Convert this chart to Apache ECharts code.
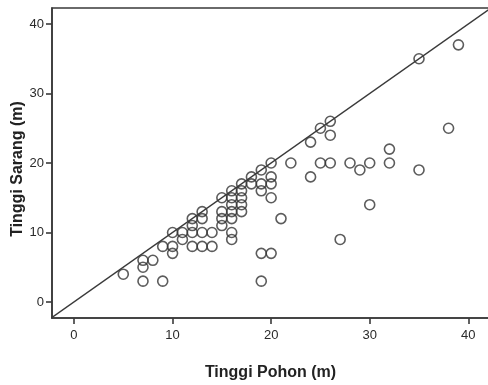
<!DOCTYPE html>
<html>
<head>
<meta charset="utf-8">
<script src="https://cdn.jsdelivr.net/npm/echarts@6/dist/echarts.min.js"></script>
<style>html,body{margin:0;padding:0;background:#fff}#c{width:488px;height:385px}</style>
</head>
<body>
<div id="c"></div>
<script>
// Tinggi Pohon (m) -> x ; Tinggi Sarang (m) -> y
const treeHeight = [5,7,7,7,8,9,9,10,10,10,11,11,12,12,12,12,13,13,13,13,14,14,15,15,15,15,16,16,16,16,16,16,16,17,17,17,17,17,18,18,19,19,19,19,19,20,20,20,20,20,21,22,24,24,25,25,26,26,26,27,28,29,30,30,32,32,35,35,38,39];
const nestHeight = [4,6,5,3,6,8,3,10,8,7,10,9,12,11,10,8,13,12,10,8,10,8,15,13,12,11,16,15,14,13,12,10,9,17,16,15,14,13,18,17,19,17,16,7,3,20,18,17,15,7,12,20,23,18,25,20,26,24,20,9,20,19,20,14,22,20,35,19,25,37];
const refLine = [-2.3, 42.3];
const tickValues = [0, 10, 20, 30, 40];
const xName = 'Tinggi Pohon (m)';
const yName = 'Tinggi Sarang (m)';

const points = treeHeight.map((v, i) => [v, nestHeight[i]]);
const chart = echarts.init(document.getElementById('c'));
const font = 'Liberation Sans, Arial, sans-serif';
const axisCommon = {
  type: 'value',
  splitLine: {show: false},
  axisLine: {show: true, onZero: false, lineStyle: {color: '#3a3a3a', width: 1.6}},
  axisTick: {show: true, length: 6, customValues: tickValues, lineStyle: {color: '#3a3a3a', width: 1.6}},
  axisLabel: {customValues: tickValues, color: '#2a2a2a', fontSize: 13, fontFamily: font},
  nameLocation: 'middle',
  nameMoveOverlap: false,
  nameTextStyle: {fontSize: 16, fontWeight: 'bold', color: '#222', fontFamily: font}
};
chart.setOption({
  animation: false,
  backgroundColor: '#fff',
  grid: {left: 52, top: 8, right: -1, bottom: 67, outerBoundsMode: 'none', containLabel: false,
         show: true, borderColor: '#3a3a3a', borderWidth: 1.6, backgroundColor: 'transparent'},
  xAxis: Object.assign({}, axisCommon, {min: -2.23, max: 42.1, name: xName, nameGap: 47,
    axisLabel: Object.assign({}, axisCommon.axisLabel, {margin: 11})}),
  yAxis: Object.assign({}, axisCommon, {min: -2.3, max: 42.3, name: yName, nameGap: 26,
    nameTextStyle: Object.assign({}, axisCommon.nameTextStyle, {padding: [0, 12, 0, 0]}),
    axisLabel: Object.assign({}, axisCommon.axisLabel, {margin: 8})}),
  series: [
    {type: 'line', data: [[refLine[0], refLine[0]], [refLine[1], refLine[1]]], showSymbol: false,
     lineStyle: {color: '#3a3a3a', width: 1.4}, clip: true, silent: true},
    {type: 'scatter', data: points, symbol: 'circle', symbolSize: 10,
     itemStyle: {color: 'rgba(0,0,0,0)', borderColor: '#333', borderWidth: 1.6}}
  ]
});
</script>
</body>
</html>
